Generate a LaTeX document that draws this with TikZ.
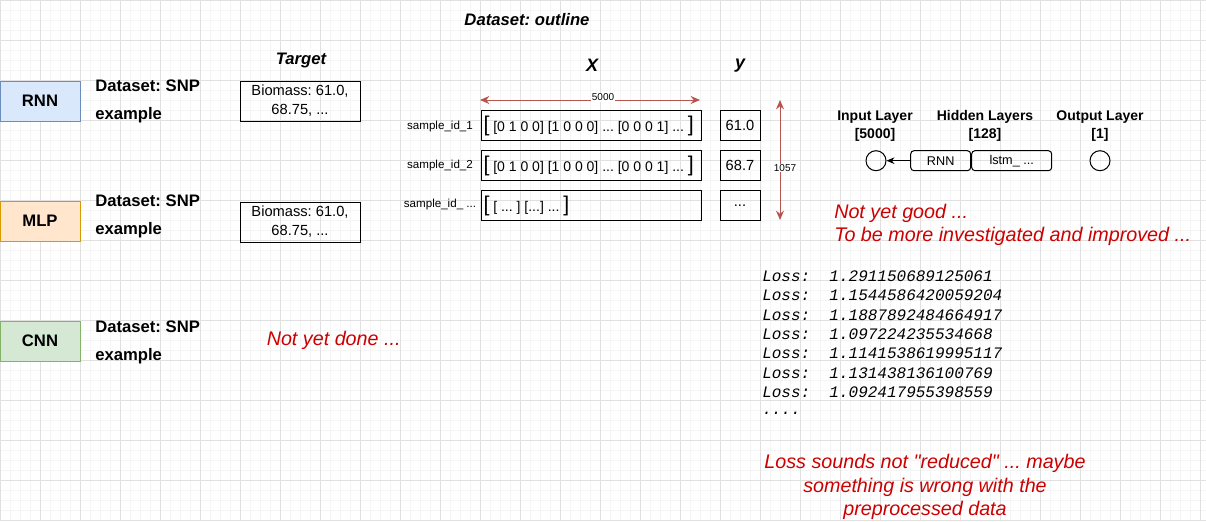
\documentclass[tikz,border=0pt]{standalone}
\usepackage{fontspec}
\setmainfont{Liberation Sans}
\setmonofont{Liberation Mono}
\usetikzlibrary{positioning,arrows,arrows.meta}
\definecolor{rnnfill}{HTML}{DAE8FC}
\definecolor{rnnline}{HTML}{6C8EBF}
\definecolor{mlpfill}{HTML}{FFE6CC}
\definecolor{mlpline}{HTML}{D79B00}
\definecolor{cnnfill}{HTML}{D5E8D4}
\definecolor{cnnline}{HTML}{82B366}
\definecolor{dimred}{HTML}{B85450}
\definecolor{notered}{HTML}{CC0000}
\frenchspacing

\begin{document}
\begin{tikzpicture}[x=0.75pt,y=-0.75pt,
	every node/.style={inner sep=0pt},
	minorgrid/.style={draw=black!4,line width=0.75pt},
	majorgrid/.style={draw=black!12,line width=0.75pt},
	modelbox/.style={draw,line width=0.75pt,minimum width=60pt,minimum height=30pt,font=\fontsize{12.5}{15}\selectfont\bfseries},
	datasettext/.style={anchor=west,align=left,font=\fontsize{12.5}{21}\selectfont\bfseries},
	heading/.style={font=\fontsize{12.5}{15}\selectfont\bfseries\itshape},
	bigheading/.style={font=\fontsize{13.5}{15}\selectfont\bfseries\itshape},
	targetbox/.style={draw,line width=0.75pt,minimum width=90pt,minimum height=30pt,align=center,font=\fontsize{11}{14.25}\selectfont},
	samplebox/.style={draw,line width=0.75pt,anchor=west,minimum width=165pt,minimum height=22.5pt,inner xsep=1.5pt,font=\fontsize{10.5}{12}\selectfont},
	ybox/.style={draw,line width=0.75pt,minimum width=30pt,minimum height=22.5pt,font=\fontsize{11}{13}\selectfont},
	samplelabel/.style={font=\fontsize{8.7}{10}\selectfont},
	dimarrow/.style={draw=dimred,line width=0.75pt,{Stealth[length=7pt,width=6pt]}-{Stealth[length=7pt,width=6pt]}},
	dimlabel/.style={fill=white,inner sep=0.6pt,font=\fontsize{7.5}{9}\selectfont},
	layerlabel/.style={align=center,font=\fontsize{10.5}{13.2}\selectfont\bfseries},
	neuron/.style={draw,circle,line width=0.75pt,minimum size=15pt},
	layerbox/.style={draw,rounded corners=2.5pt,line width=0.75pt,minimum height=15pt,font=\fontsize{9.5}{11}\selectfont},
	note/.style={text=notered,font=\fontsize{14.8}{17.7}\selectfont\itshape},
	lossline/.style={anchor=west,font=\fontsize{12}{14}\selectfont\ttfamily\itshape}]
	\useasboundingbox (0,0) rectangle (1206,521);
	%
	% background grid
	\foreach \gx in {0,10,...,1200} \draw[minorgrid] (\gx,0) -- (\gx,521);
	\foreach \gy in {0,10,...,520} \draw[minorgrid] (0,\gy) -- (1206,\gy);
	\foreach \gx in {0,40,...,1200} \draw[majorgrid] (\gx,0) -- (\gx,521);
	\foreach \gy in {0,40,...,520} \draw[majorgrid] (0,\gy) -- (1206,\gy);
	%
	% models
	\node[modelbox,draw=rnnline,fill=rnnfill] (rnn) at (40,101) {RNN};
	\node[modelbox,draw=mlpline,fill=mlpfill] (mlp) at (40,221) {MLP};
	\node[modelbox,draw=cnnline,fill=cnnfill] (cnn) at (40,341) {CNN};
	\node[datasettext] (rnndata) at (95,101) {Dataset: SNP\\example};
	\node[datasettext] (mlpdata) at (95,216.5) {Dataset: SNP\\example};
	\node[datasettext] (cnndata) at (95,342) {Dataset: SNP\\example};
	%
	% target
	\node[heading] (target) at (301,60) {Target};
	\node[targetbox] (rnntarget) at (300,101) {Biomass: 61.0,\\68.75, ...};
	\node[targetbox] (mlptarget) at (300,222) {Biomass: 61.0,\\68.75, ...};
	\node[note,anchor=west] (cnnnote) at (266.5,340.5) {Not yet done ...};
	%
	% dataset outline
	\node[heading] (outline) at (527,20) {Dataset: outline};
	\node[bigheading] (xhead) at (592,65) {X};
	\node[bigheading] (yhead) at (740,66) {y};
	%
	\node[samplebox] (row1) at (481,125.5) {\makebox[162pt][l]{{\fontsize{16}{16}\selectfont[}\ [0 1 0 0] [1 0 0 0] ... [0 0 0 1] ... {\fontsize{16}{16}\selectfont]}}};
	\node[samplebox] (row2) at (481,165.5) {\makebox[162pt][l]{{\fontsize{16}{16}\selectfont[}\ [0 1 0 0] [1 0 0 0] ... [0 0 0 1] ... {\fontsize{16}{16}\selectfont]}}};
	\node[samplebox] (row3) at (481,205.5) {\makebox[162pt][l]{{\fontsize{16}{16}\selectfont[}\ [ ... ] [...] ... {\fontsize{16}{16}\selectfont]}}};
	\node[samplelabel] (id1) at (440,126) {sample\_id\_1};
	\node[samplelabel] (id2) at (440,165) {sample\_id\_2};
	\node[samplelabel] (id3) at (440,204.5) {sample\_id\_ ...};
	%
	\node[ybox] (y1) at (740,125.5) {61.0};
	\node[ybox] (y2) at (740,165.5) {68.7};
	\node[ybox] (y3) at (740,205.5) {...};
	%
	\coordinate (wleft) at (480,100);
	\coordinate (wright) at (700,100);
	\coordinate (htop) at (780,100);
	\coordinate (hbot) at (780,220);
	\path[dimarrow] (wleft) -- (wright);
	\path[dimarrow] (htop) -- (hbot);
	\node[dimlabel] (width) at (603,97.5) {5000};
	\node[dimlabel] (height) at (785,168) {1057};
	%
	% network
	\node[layerlabel] (inlabel) at (875,126) {Input Layer\\{}[5000]};
	\node[layerlabel] (hidlabel) at (985,126) {Hidden Layers\\{}[128]};
	\node[layerlabel] (outlabel) at (1100,126) {Output Layer\\{}[1]};
	\node[neuron] (inneuron) at (876,160.7) {};
	\node[neuron] (outneuron) at (1100,160.7) {};
	\node[layerbox,minimum width=45pt] (hrnn) at (940.7,160.7) {RNN};
	\node[layerbox,minimum width=60pt,right=0pt of hrnn] (hlstm) {lstm\_ ...};
	\draw[-{Stealth[length=6pt,width=5pt]},line width=0.75pt] (hrnn) -- (inneuron);
	%
	\node[note,anchor=west,align=left] (rnnnote) at (834,225) {Not yet good ...\\To be more investigated and improved ...};
	%
	% loss values
	\foreach \lossval [count=\i] in {1.291150689125061,1.1544586420059204,1.1887892484664917,1.097224235534668,1.1141538619995117,1.131438136100769,1.092417955398559}
		\node[lossline] (loss\i) at (762,276+19.4*\i-19.4) {Loss:\ \ \lossval};
	\node[lossline] (lossmore) at (762,413) {....};
	\node[note,align=center] (lossnote) at (925,487) {Loss sounds not \textquotedbl reduced\textquotedbl{} ... maybe\\something is wrong with the\\preprocessed data};
\end{tikzpicture}
\end{document}
